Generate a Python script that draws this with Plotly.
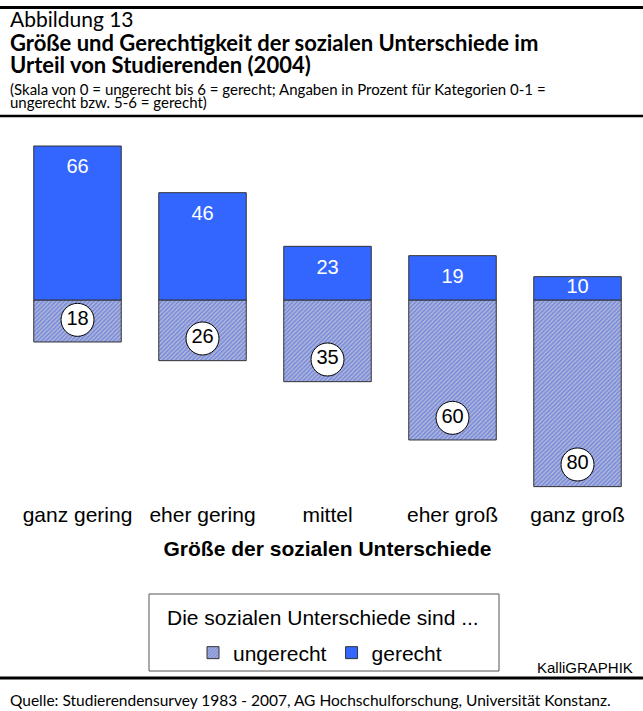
import plotly.graph_objects as go

# ---------------- data ----------------
categories = ["ganz gering", "eher gering", "mittel", "eher groß", "ganz groß"]
gerecht = [66, 46, 23, 19, 10]
ungerecht = [18, 26, 35, 60, 80]

header_label = "Abbildung 13"
title_lines = ["Größe und Gerechtigkeit der sozialen Unterschiede im",
               "Urteil von Studierenden (2004)"]
subtitle_lines = ["(Skala von 0 = ungerecht bis 6 = gerecht; Angaben in Prozent für Kategorien 0-1 =",
                  "ungerecht bzw. 5-6 = gerecht)"]
x_title = "Größe der sozialen Unterschiede"
legend_title = "Die sozialen Unterschiede sind ..."
credit = "KalliGRAPHIK"
source = "Quelle: Studierendensurvey 1983 - 2007, AG Hochschulforschung, Universität Konstanz."

# ---------------- layout geometry ----------------
W, H = 643, 711
ML, MR, MT, MB = 15, 3, 130, 211
PW = W - ML - MR
PH = H - MT - MB
BASE_PX = 300          # pixel row of the zero line
K = 2.333              # pixels per percent


def px(x):
    return (x - ML) / PW


def py(y):
    return (H - MB - y) / PH


BLUE = "#3366FF"
FONT_CHART = "Liberation Sans, Arial, sans-serif"
FONT_HEAD = "Lato, sans-serif"
OUTLINE = dict(color="#333333", width=1)

fig = go.Figure()

fig.add_trace(go.Bar(
    x=categories, y=[-v for v in ungerecht], name="ungerecht", width=0.7,
    marker=dict(color="#7c8cd4", line=OUTLINE,
                pattern=dict(shape="/", fgcolor="#3c5ce4", bgcolor="#b8bdd6",
                             size=3, solidity=0.6)),
    hoverinfo="skip"))
fig.add_trace(go.Bar(
    x=categories, y=gerecht, name="gerecht", width=0.7,
    marker=dict(color=BLUE, line=OUTLINE), hoverinfo="skip"))

# value labels in blue bars
fig.add_trace(go.Scatter(
    x=categories, y=[max(v - 9.6, v / 2) for v in gerecht], mode="text",
    text=[str(v) for v in gerecht],
    textfont=dict(color="white", size=20, family=FONT_CHART),
    showlegend=False, hoverinfo="skip"))

# value labels in circles on hatched bars
fig.add_trace(go.Scatter(
    x=categories, y=[-(v - 9.5) for v in ungerecht], mode="markers+text",
    marker=dict(size=33, color="white", line=dict(color="black", width=1)),
    text=[str(v) for v in ungerecht], textposition="middle center",
    textfont=dict(color="black", size=20, family=FONT_CHART),
    showlegend=False, hoverinfo="skip"))

y_top = (BASE_PX - MT) / K
y_bot = -(H - MB - BASE_PX) / K

fig.update_layout(
    width=W, height=H,
    margin=dict(l=ML, r=MR, t=MT, b=MB, pad=0),
    barmode="relative",
    plot_bgcolor="white", paper_bgcolor="white",
    font=dict(family=FONT_CHART, color="black"),
    xaxis=dict(range=[-0.5, 4.5], showgrid=False, zeroline=False, showline=False,
               ticks="", tickfont=dict(size=21, family=FONT_CHART, color="black"),
               title=dict(text="<b>" + x_title + "</b>", standoff=16,
                          font=dict(size=21, family=FONT_CHART, color="black")),
               fixedrange=True),
    yaxis=dict(range=[y_bot, y_top], visible=False, fixedrange=True),
    showlegend=True,
    legend=dict(orientation="h", x=px(320), xanchor="center", y=py(653), yanchor="middle",
                font=dict(size=21, family=FONT_CHART, color="black"),
                bgcolor="rgba(0,0,0,0)", traceorder="normal", itemclick=False,
                itemdoubleclick=False),
    hovermode=False,
)

shapes = [
    dict(type="line", xref="paper", yref="paper", x0=px(0), x1=px(W), y0=py(7.5), y1=py(7.5),
         line=dict(color="black", width=3)),
    dict(type="line", xref="paper", yref="paper", x0=px(0), x1=px(W), y0=py(116), y1=py(116),
         line=dict(color="black", width=2.5)),
    dict(type="line", xref="paper", yref="paper", x0=px(0), x1=px(W), y0=py(678), y1=py(678),
         line=dict(color="black", width=3)),
    dict(type="rect", xref="paper", yref="paper", x0=px(149), x1=px(499), y0=py(671), y1=py(594),
         line=dict(color="#555555", width=1), fillcolor="rgba(0,0,0,0)"),
]
fig.update_layout(shapes=shapes)


def ann(text, x, y, size, family, xanchor="left", bold=False):
    fig.add_annotation(text=("<b>" + text + "</b>") if bold else text,
                       xref="paper", yref="paper", x=px(x), y=py(y),
                       xanchor=xanchor, yanchor="middle", showarrow=False,
                       font=dict(size=size, family=family, color="black"))


ann(header_label, 8, 19, 21, FONT_HEAD)
ann(title_lines[0], 8, 43, 22, FONT_HEAD, bold=True)
ann(title_lines[1], 8, 64, 22, FONT_HEAD, bold=True)
ann(subtitle_lines[0], 8, 89, 15, FONT_HEAD)
ann(subtitle_lines[1], 8, 102, 15, FONT_HEAD)
ann(legend_title, 323, 617, 21, FONT_CHART, xanchor="center")
ann(credit, 635, 667, 15, FONT_CHART, xanchor="right")
ann(source, 8, 700, 15.5, FONT_HEAD)

fig.write_html("out.html",
               config={"displayModeBar": False, "staticPlot": True},
               post_script="document.body.style.margin='0';document.body.style.overflow='hidden';")
